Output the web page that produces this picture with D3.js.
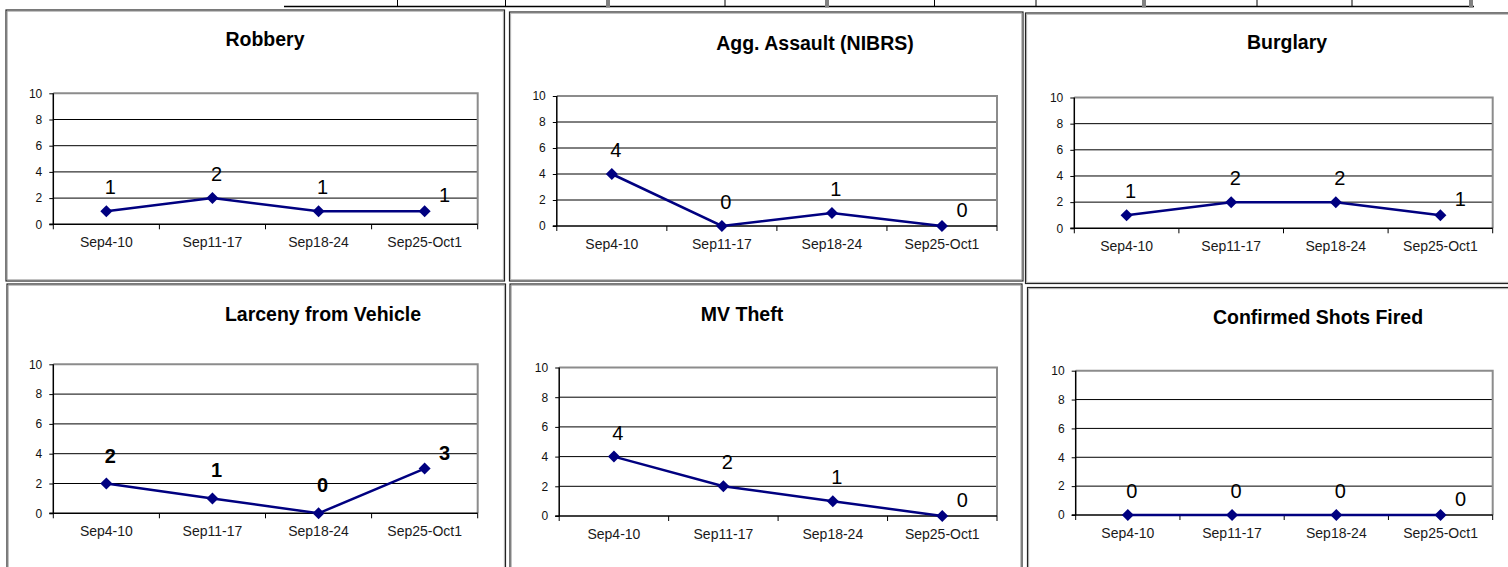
<!DOCTYPE html>
<html>
<head>
<meta charset="utf-8">
<script src="https://cdn.jsdelivr.net/npm/d3@7"></script>
<style>
  html, body { margin: 0; padding: 0; background: #fff; }
  svg { display: block; font-family: "Liberation Sans", Arial, sans-serif; }
</style>
</head>
<body>
<svg id="chart" width="1508" height="567"></svg>
<script>
// Weekly counts per offence, Sep 4 – Oct 1
const categories = ["Sep4-10", "Sep11-17", "Sep18-24", "Sep25-Oct1"];
const robbery = [1, 2, 1, 1];
const aggAssault = [4, 0, 1, 0];
const burglary = [1, 2, 2, 1];
const larcenyFromVehicle = [2, 1, 0, 3];
const mvTheft = [4, 2, 1, 0];
const shotsFired = [0, 0, 0, 0];
const yTicks = [0, 2, 4, 6, 8, 10];
const titles = ["Robbery", "Agg. Assault (NIBRS)", "Burglary",
                "Larceny from Vehicle", "MV Theft", "Confirmed Shots Fired"];
const seriesList = [robbery, aggAssault, burglary, larcenyFromVehicle, mvTheft, shotsFired];

// Panel layout: frame box, plot box, title anchor
const layout = [
  { frame: [6, 10, 504.5, 281],   plot: [53.3, 93.3, 477.7, 224.3],  title: [265, 46],   bold: false },
  { frame: [509.5, 12, 1023, 281], plot: [556.8, 96, 997, 226],      title: [815, 50],   bold: false },
  { frame: [1025.5, 13, 1530, 283.5], plot: [1074.3, 97.5, 1492.7, 228.3], title: [1287, 49], bold: false },
  { frame: [7, 284, 505.5, 600],  plot: [53.3, 364.3, 477.7, 513.3], title: [323, 321],  bold: true },
  { frame: [510, 284, 1022, 600], plot: [559.2, 367.5, 997, 516],    title: [742, 321],  bold: false },
  { frame: [1027.5, 287.5, 1530, 600], plot: [1075.7, 370.7, 1492.7, 515], title: [1318, 324], bold: false }
];

const svg = d3.select("#chart");

// Remnant of the table ruling along the top edge
const topRule = svg.append("g");
topRule.append("line").attr("x1", 284).attr("x2", 1474).attr("y1", 6.5).attr("y2", 6.5)
  .attr("stroke", "#000").attr("stroke-width", 1.5);
[397.5, 505.5, 725, 934.5, 1036, 1257, 1352].forEach(x => {
  topRule.append("line").attr("x1", x).attr("x2", x).attr("y1", 0).attr("y2", 6)
    .attr("stroke", "#000").attr("stroke-width", 1);
});
[606, 825, 1142, 1469].forEach(x => {
  topRule.append("rect").attr("x", x).attr("y", 0).attr("width", 4).attr("height", 7.5).attr("fill", "#808080");
});

seriesList.forEach((values, i) => {
  const L = layout[i];
  const g = svg.append("g");
  const [fx0, fy0, fx1, fy1] = L.frame;

  // Chart frame (dark outer edge with a grey inner edge)
  g.append("rect").attr("x", fx0).attr("y", fy0).attr("width", fx1 - fx0).attr("height", fy1 - fy0)
    .attr("fill", "#fff").attr("stroke", "#222").attr("stroke-width", 1.2);
  g.append("rect").attr("x", fx0 + 1.2).attr("y", fy0 + 1.2).attr("width", fx1 - fx0 - 2.4).attr("height", fy1 - fy0 - 2.4)
    .attr("fill", "none").attr("stroke", "#9a9a9a").attr("stroke-width", 0.8);

  const [px0, py0, px1, py1] = L.plot;
  const x = d3.scaleBand().domain(categories).range([px0, px1]);
  const y = d3.scaleLinear().domain([0, 10]).range([py1, py0]);

  // Title
  g.append("text").attr("x", L.title[0]).attr("y", L.title[1])
    .attr("text-anchor", "middle").attr("font-weight", "bold").attr("font-size", 19.5)
    .attr("fill", "#000").text(titles[i]);

  // Gridlines
  g.append("g").selectAll("line").data(yTicks.filter(t => t > 0 && t < 10)).join("line")
    .attr("x1", px0).attr("x2", px1).attr("y1", d => y(d)).attr("y2", d => y(d))
    .attr("stroke", "#000").attr("stroke-width", 1);

  // Plot border: grey top and right
  g.append("path").attr("d", `M${px0},${y(10)}H${px1}V${y(0)}`)
    .attr("fill", "none").attr("stroke", "#8c8c8c").attr("stroke-width", 2);

  // Y axis
  const yAxis = g.append("g").attr("transform", `translate(${px0},0)`)
    .call(d3.axisLeft(y).tickValues(yTicks).tickSize(4).tickPadding(7).tickFormat(d3.format("d")));
  yAxis.select(".domain").attr("stroke", "#000").attr("stroke-width", 1.5).attr("d", `M0,${y(10)}V${y(0)}`);
  yAxis.selectAll(".tick line").attr("stroke", "#000");
  yAxis.selectAll(".tick text").attr("font-size", 12).attr("font-family", "Liberation Sans, Arial, sans-serif").attr("fill", "#111");

  // X axis: labels centered in each band, tick marks on band boundaries
  const xAxis = g.append("g").attr("transform", `translate(0,${py1})`)
    .call(d3.axisBottom(x).tickSize(0).tickPadding(13));
  xAxis.select(".domain").attr("stroke", "#000").attr("stroke-width", 1.5).attr("d", `M${px0 - 4},0H${px1}`);
  xAxis.selectAll(".tick text").attr("font-size", 14).attr("font-family", "Liberation Sans, Arial, sans-serif").attr("fill", "#1a1a1a");
  const bounds = categories.map(c => x(c)).concat([px1]);
  xAxis.selectAll("line.bound").data(bounds).join("line").attr("class", "bound")
    .attr("x1", d => d).attr("x2", d => d).attr("y1", 0).attr("y2", 5)
    .attr("stroke", "#000").attr("stroke-width", 1);

  const cx = c => x(c) + x.bandwidth() / 2;

  // Series line
  g.append("path").datum(values)
    .attr("d", d3.line().x((d, k) => cx(categories[k])).y(d => y(d)))
    .attr("fill", "none").attr("stroke", "#000080").attr("stroke-width", 2.5);

  // Diamond markers
  g.append("g").selectAll("path").data(values).join("path")
    .attr("transform", (d, k) => `translate(${cx(categories[k])},${y(d)})`)
    .attr("d", d3.symbol().type(d3.symbolDiamond2).size(92))
    .attr("fill", "#000080");

  // Data labels: above each point, the last one up and to the right
  const last = values.length - 1;
  g.append("g").selectAll("text").data(values).join("text")
    .attr("x", (d, k) => cx(categories[k]) + (k === last ? 20 : 4))
    .attr("y", (d, k) => y(d) - (k === last ? 9 : (L.bold ? 21 : 17)))
    .attr("text-anchor", "middle").attr("font-size", 20)
    .attr("font-weight", L.bold ? "bold" : "normal")
    .attr("fill", "#000").text(d => d);
});
</script>
</body>
</html>
